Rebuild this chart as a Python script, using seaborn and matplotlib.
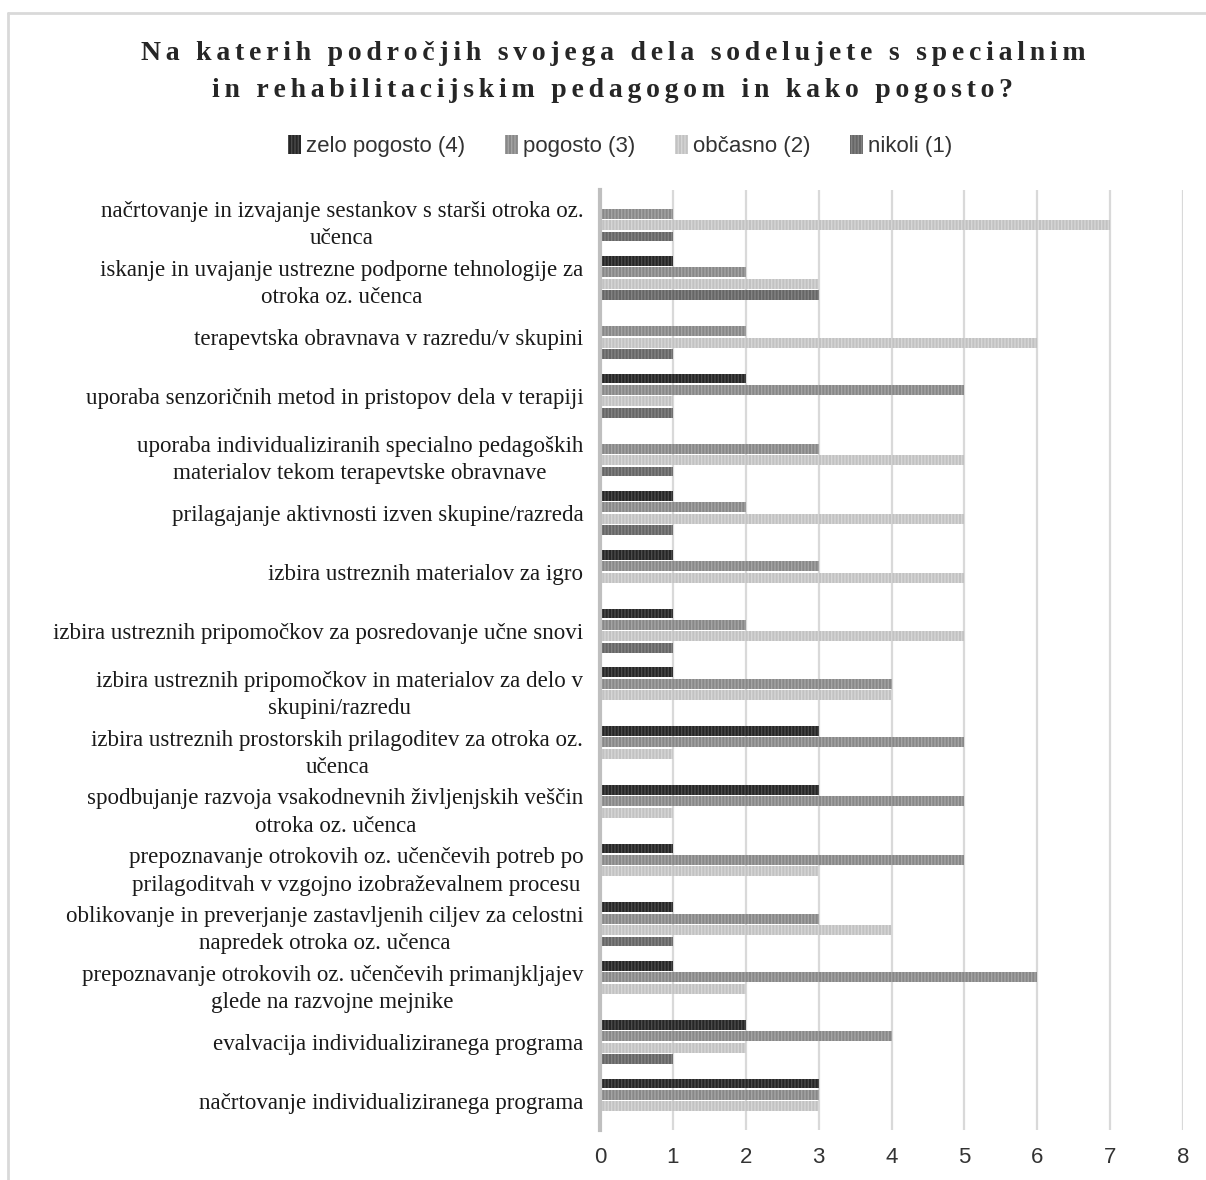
import numpy as np
import pandas as pd
import seaborn as sns
import matplotlib.pyplot as plt
from matplotlib.lines import Line2D
from matplotlib.patches import Patch

# categories as they appear from top to bottom
categories = [
    "načrtovanje in izvajanje sestankov s starši otroka oz.\nučenca",
    "iskanje in uvajanje ustrezne podporne tehnologije za\notroka oz. učenca",
    "terapevtska obravnava v razredu/v skupini",
    "uporaba senzoričnih metod in pristopov dela v terapiji",
    "uporaba individualiziranih specialno pedagoških\nmaterialov tekom terapevtske obravnave",
    "prilagajanje aktivnosti izven skupine/razreda",
    "izbira ustreznih materialov za igro",
    "izbira ustreznih pripomočkov za posredovanje učne snovi",
    "izbira ustreznih pripomočkov in materialov za delo v\nskupini/razredu",
    "izbira ustreznih prostorskih prilagoditev za otroka oz.\nučenca",
    "spodbujanje razvoja vsakodnevnih življenjskih veščin\notroka oz. učenca",
    "prepoznavanje otrokovih oz. učenčevih potreb po\nprilagoditvah v vzgojno izobraževalnem procesu",
    "oblikovanje in preverjanje zastavljenih ciljev za celostni\nnapredek otroka oz. učenca",
    "prepoznavanje otrokovih oz. učenčevih primanjkljajev\nglede na razvojne mejnike",
    "evalvacija individualiziranega programa",
    "načrtovanje individualiziranega programa",
]

series = ["zelo pogosto (4)", "pogosto (3)", "občasno (2)", "nikoli (1)"]

zelo_pogosto = [0, 1, 0, 2, 0, 1, 1, 1, 1, 3, 3, 1, 1, 1, 2, 3]
pogosto = [1, 2, 2, 5, 3, 2, 3, 2, 4, 5, 5, 5, 3, 6, 4, 3]
obcasno = [7, 3, 6, 1, 5, 5, 5, 5, 4, 1, 1, 3, 4, 2, 2, 3]
nikoli = [1, 3, 1, 1, 1, 1, 0, 1, 0, 0, 0, 0, 1, 0, 1, 0]

fill_colors = ["#262626", "#888888", "#c2c2c2", "#666666"]
stripe_colors = ["#4a4a4a", "#a4a4a4", "#d6d6d6", "#828282"]

df = pd.DataFrame({
    "kategorija": np.repeat(categories, len(series)),
    "serija": series * len(categories),
    "vrednost": np.ravel(np.column_stack([zelo_pogosto, pogosto, obcasno, nikoli])),
})

sns.set_style("white")
plt.rcParams["font.family"] = ["Liberation Sans", "DejaVu Sans"]
plt.rcParams["hatch.linewidth"] = 1.0

fig = plt.figure(figsize=(12.06, 11.8), dpi=100)
ax = fig.add_axes([600 / 1206, 1 - 1130 / 1180, 583 / 1206, 940 / 1180])

sns.barplot(data=df, x="vrednost", y="kategorija", hue="serija", hue_order=series,
            order=categories, palette=fill_colors, orient="h", width=0.78, gap=0.14,
            legend=False, ax=ax)

# vertical stripes like the original Excel pattern fill
for cont, stripe in zip(ax.containers, stripe_colors):
    for bar in cont:
        bar.set_hatch("|||||")
        bar.set_edgecolor(stripe)
        bar.set_linewidth(0)

ax.set_xlim(0, 8)
ax.set_xticks(range(9))
ax.set_xlabel("")
ax.set_ylabel("")
ax.grid(axis="x", color="#d9d9d9", linewidth=1.6)
ax.set_axisbelow(True)
for s in ["top", "right", "bottom"]:
    ax.spines[s].set_visible(False)
ax.spines["left"].set_color("#bfbfbf")
ax.spines["left"].set_linewidth(3)
ax.tick_params(axis="x", length=0, labelsize=16, labelcolor="#333333", pad=12)
ax.tick_params(axis="y", length=0, pad=12)
for lbl in ax.get_yticklabels():
    lbl.set_family(["Liberation Serif", "DejaVu Serif"])
    lbl.set_fontsize(16.6)
    lbl.set_multialignment("center")
    lbl.set_linespacing(1.4)
    lbl.set_color("#1a1a1a")

# title with widened letter spacing
title_lines = ["Na katerih področjih svojega dela sodelujete s specialnim",
               "in rehabilitacijskim pedagogom in kako pogosto?"]
spaced = "\n".join("\u200a\u200a".join(line) for line in title_lines)
fig.text(613 / 1206, 1 - 72 / 1180, spaced, ha="center", va="center",
         family=["Liberation Serif", "DejaVu Serif"], fontweight="bold",
         fontsize=20, color="#262626", linespacing=1.65)

handles = [Patch(facecolor=c, edgecolor=s, hatch="|||||", linewidth=0)
           for c, s in zip(fill_colors, stripe_colors)]
fig.legend(handles, series, loc="center", bbox_to_anchor=(620 / 1206, 1 - 146 / 1180),
           ncol=4, frameon=False, fontsize=16, handlelength=0.6, handleheight=0.9,
           handletextpad=0.2, columnspacing=1.8, labelcolor="#333333")

# outer chart border (top and left edges visible)
fig.add_artist(Line2D([8 / 1206, 1], [1 - 13 / 1180, 1 - 13 / 1180],
                      color="#d9d9d9", linewidth=2, transform=fig.transFigure))
fig.add_artist(Line2D([8 / 1206, 8 / 1206], [0, 1 - 13 / 1180],
                      color="#d9d9d9", linewidth=2, transform=fig.transFigure))

fig.savefig("out.png", dpi=100)
